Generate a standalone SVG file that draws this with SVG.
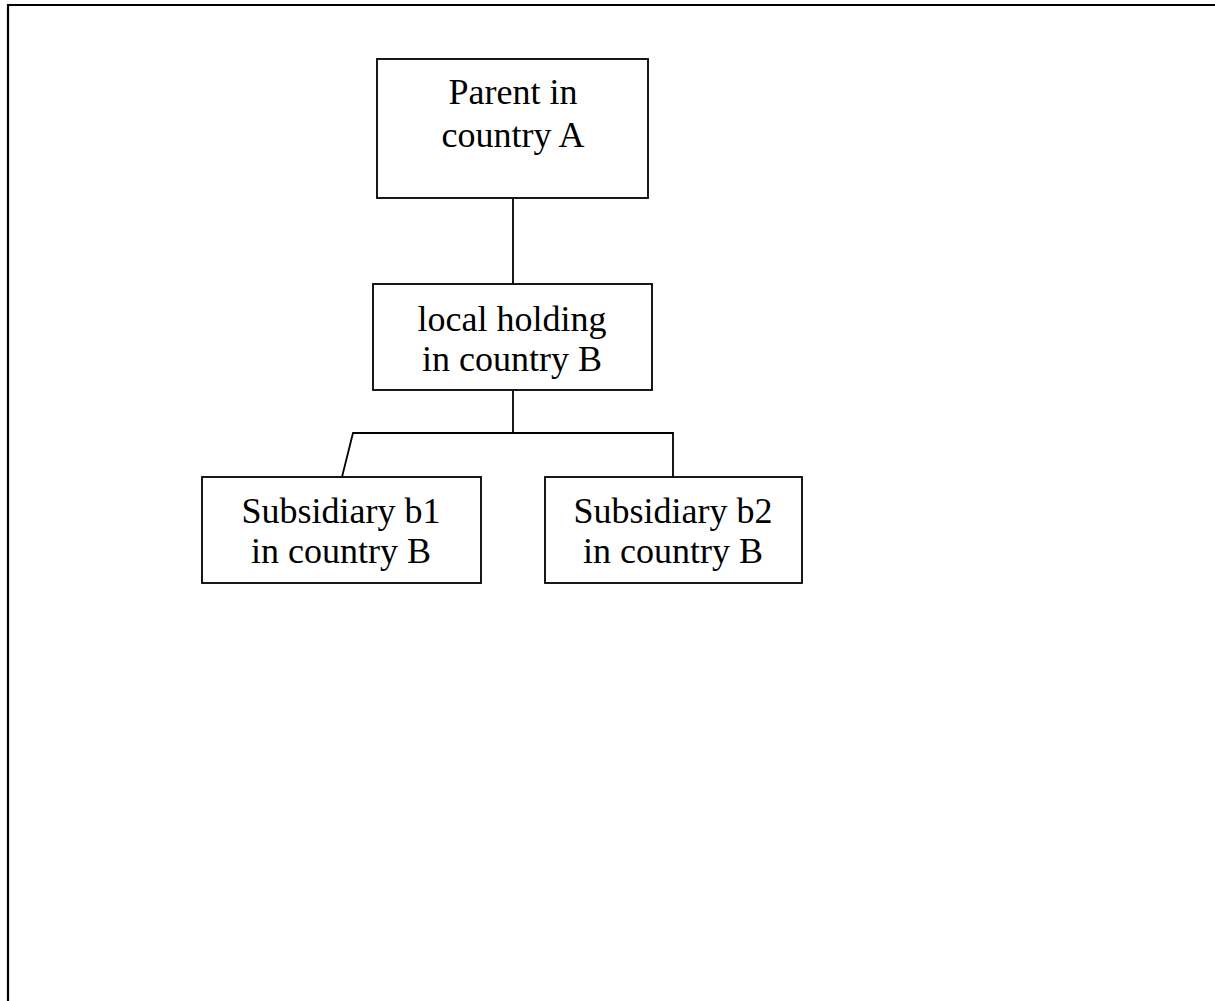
<svg xmlns="http://www.w3.org/2000/svg" width="1215" height="1001" viewBox="0 0 1215 1001">
<style>
.box{fill:#fff;stroke:#000;stroke-width:1.8}
.lbl{font-family:"Liberation Serif","Times New Roman",serif;font-size:36px;fill:#000;text-anchor:middle}
.con{fill:none;stroke:#000;stroke-width:1.8}
</style>
<rect width="1215" height="1001" fill="#fff"/>
<path d="M8,1010 V5 H1225" fill="none" stroke="#000" stroke-width="2.2"/>
<g id="connectors">
<path class="con" d="M513,198 V284"/>
<path class="con" d="M513,390 V433"/>
<path class="con" d="M342,477 L353,433 H673 V477"/>
</g>
<g id="parent">
<rect class="box" x="377" y="59" width="271" height="139"/>
<text class="lbl" x="513" y="104">Parent in</text>
<text class="lbl" x="513" y="147">country A</text>
</g>
<g id="holding">
<rect class="box" x="373" y="284" width="279" height="106"/>
<text class="lbl" x="512" y="331">local holding</text>
<text class="lbl" x="512" y="371">in country B</text>
</g>
<g id="sub-b1">
<rect class="box" x="202" y="477" width="279" height="106"/>
<text class="lbl" x="341" y="523">Subsidiary b1</text>
<text class="lbl" x="341" y="563">in country B</text>
</g>
<g id="sub-b2">
<rect class="box" x="545" y="477" width="257" height="106"/>
<text class="lbl" x="673" y="523">Subsidiary b2</text>
<text class="lbl" x="673" y="563">in country B</text>
</g>
</svg>
